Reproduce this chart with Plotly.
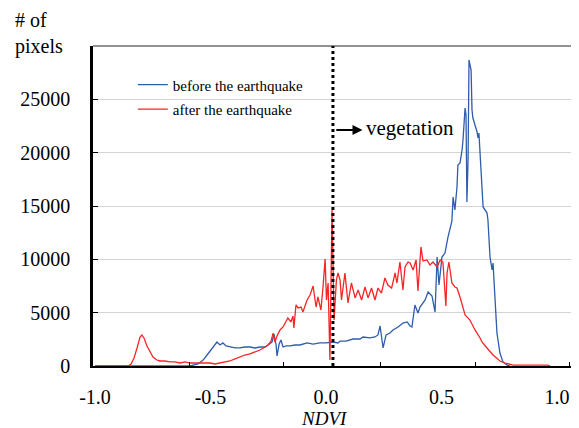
import plotly.graph_objects as go

# ---- data ----
ndvi_before = [-1.0, -0.589, -0.554, -0.532, -0.515, -0.498, -0.481, -0.472, -0.459, -0.446,
               -0.433, -0.416, -0.394, -0.372, -0.351, -0.329, -0.307, -0.286, -0.264, -0.251,
               -0.234, -0.225, -0.216, -0.212, -0.203, -0.195, -0.186, -0.173, -0.156, -0.134,
               -0.113, -0.082, -0.056, -0.026, 0.000, 0.030, 0.052, 0.061, 0.087, 0.117,
               0.147, 0.160, 0.190, 0.212, 0.225, 0.234, 0.247, 0.260, 0.277, 0.290,
               0.312, 0.333, 0.351, 0.364, 0.372, 0.385, 0.398, 0.407, 0.429, 0.442,
               0.459, 0.472, 0.481, 0.489, 0.502, 0.515, 0.528, 0.545, 0.550, 0.558,
               0.567, 0.571, 0.580, 0.589, 0.593, 0.602, 0.606, 0.610, 0.615, 0.619,
               0.628, 0.632, 0.636, 0.645, 0.654, 0.658, 0.662, 0.671, 0.680, 0.697,
               0.701, 0.710, 0.719, 0.723, 0.732, 0.740, 0.753, 0.766, 0.784, 0.797]
count_before = [0, 0, 190, 560, 1030, 1500, 2060, 2250, 1970, 2160,
                1880, 1780, 1690, 1690, 1780, 1780, 1690, 1780, 1780, 1970,
                2250, 3000, 1970, 940, 2060, 2440, 1780, 1880, 1880, 1970,
                1970, 2160, 2060, 2160, 2160, 2250, 2160, 2340, 2340, 2530,
                2530, 2720, 2630, 2720, 2910, 3750, 1690, 2910, 3090, 3380,
                3660, 4030, 4130, 3750, 3660, 5720, 4970, 5530, 6190, 6940,
                6560, 5060, 10220, 7590, 10220, 10590, 12090, 13590, 15840, 14630,
                16780, 18840, 19030, 20250, 21190, 24190, 23530, 15380, 19310, 28690,
                27750, 24000, 23250, 22590, 21940, 21380, 21840, 18380, 14910, 14340,
                13690, 10220, 9000, 9660, 5910, 3090, 1220, 380, 90, 0]

ndvi_after = [-1.0, -0.857, -0.844, -0.831, -0.818, -0.805, -0.797, -0.788, -0.775, -0.762,
              -0.749, -0.732, -0.719, -0.697, -0.675, -0.654, -0.632, -0.610, -0.589, -0.545,
              -0.502, -0.481, -0.459, -0.437, -0.416, -0.394, -0.372, -0.351, -0.329, -0.307,
              -0.286, -0.264, -0.251, -0.238, -0.229, -0.221, -0.212, -0.199, -0.186, -0.165,
              -0.152, -0.143, -0.139, -0.130, -0.121, -0.108, -0.100, -0.082, -0.069, -0.056,
              -0.043, -0.035, -0.022, -0.013, -0.004, 0.002, 0.009, 0.017, 0.026, 0.035,
              0.045, 0.052, 0.061, 0.067, 0.082, 0.095, 0.110, 0.126, 0.139, 0.154,
              0.169, 0.182, 0.197, 0.212, 0.225, 0.240, 0.255, 0.268, 0.284, 0.299,
              0.307, 0.320, 0.333, 0.342, 0.355, 0.364, 0.377, 0.390, 0.398, 0.411,
              0.420, 0.437, 0.450, 0.463, 0.481, 0.494, 0.506, 0.519, 0.524, 0.532,
              0.545, 0.558, 0.567, 0.580, 0.602, 0.623, 0.645, 0.667, 0.675, 0.697,
              0.723, 0.753, 0.775, 0.810, 0.961, 0.970]
count_after = [0, 0, 190, 750, 1690, 2720, 2910, 2630, 1880, 1310,
               840, 560, 470, 470, 380, 380, 280, 380, 280, 280,
               280, 190, 280, 380, 470, 660, 840, 1030, 1130, 1310,
               1500, 1780, 1970, 2340, 3090, 2250, 2810, 3380, 3660, 4500,
               4130, 4690, 3560, 5720, 5440, 5530, 5060, 6190, 6660, 7500,
               5530, 6470, 5250, 7410, 10030, 6190, 7780, 560, 14630, 4310,
               8060, 8720, 8060, 6190, 8720, 5910, 7780, 6380, 7130, 6190,
               7410, 6380, 7310, 6190, 7310, 6840, 8250, 7590, 7310, 8720,
               7780, 9750, 7130, 9280, 9750, 9660, 9000, 9940, 7030, 11160,
               9840, 9940, 9470, 9750, 9280, 9940, 9750, 5630, 8720, 9750,
               7780, 7410, 7310, 6470, 4780, 4310, 3380, 2630, 2250, 1690,
               1030, 470, 280, 90, 90, 0]

x_label_vals = [-1.0, -0.5, 0.0, 0.5, 1.0]
x_label_text = ["-1.0", "-0.5", "0.0", "0.5", "1.0"]
x_tick_marks = [-0.589, -0.182, 0.234, 0.645, 1.056]
y_tick_vals = [0, 5000, 10000, 15000, 20000, 25000]
y_tick_text = ["0", "5000", "10000", "15000", "20000", "25000"]
threshold = 0.03
x_range = [-1.0087, 1.0952]
y_range = [0, 30000]

FONT = "Liberation Serif, Times New Roman, serif"
BLUE = "#2f5dab"
RED = "#f72525"

fig = go.Figure()
fig.add_trace(go.Scatter(x=ndvi_before, y=count_before, mode="lines",
                         name="before the earthquake", legendgroup="b",
                         line=dict(color=BLUE, width=1.3)))
fig.add_trace(go.Scatter(x=ndvi_after, y=count_after, mode="lines",
                         name="after the earthquake", legendgroup="a",
                         line=dict(color=RED, width=1.3)))
# helper trace so the overlay axis (tick marks only) exists
fig.add_trace(go.Scatter(x=[], y=[], xaxis="x2", showlegend=False, hoverinfo="skip"))

# the page has an 8px body margin, so the figure is sized/offset to compensate
fig.update_layout(
    width=571, height=420,
    margin=dict(l=85, r=0, t=38, b=62),
    paper_bgcolor="white", plot_bgcolor="white",
    font=dict(family=FONT, color="black", size=20),
    showlegend=True,
    legend=dict(x=0.082, y=0.93, xanchor="left", yanchor="top",
                bgcolor="rgba(0,0,0,0)", font=dict(size=15, family=FONT),
                tracegroupgap=2, itemwidth=30),
    xaxis=dict(range=x_range, tickmode="array", tickvals=x_label_vals,
               ticktext=x_label_text, ticks="", showgrid=False, zeroline=False,
               showline=True, linecolor="black", linewidth=1.5, layer="below traces",
               tickfont=dict(size=20, family=FONT), ticklabelstandoff=12),
    xaxis2=dict(range=x_range, overlaying="x", side="bottom", anchor="y",
                tickmode="array", tickvals=x_tick_marks, ticks="inside", ticklen=4,
                tickcolor="black", tickwidth=1, showticklabels=False,
                showgrid=False, zeroline=False, showline=False),
    yaxis=dict(range=y_range, tickmode="array", tickvals=y_tick_vals,
               ticktext=y_tick_text, ticks="inside", ticklen=5, tickcolor="black",
               showgrid=True, gridcolor="#d4d4d4", gridwidth=1, zeroline=False,
               showline=True, linecolor="black", linewidth=2.5, layer="below traces",
               tickfont=dict(size=20, family=FONT), ticklabelstandoff=16),
)

# top border of the plot area
fig.add_shape(type="line", xref="paper", yref="paper", x0=0, x1=1, y0=1, y1=1,
              line=dict(color="#6e6e6e", width=1.5))
# vegetation threshold
fig.add_shape(type="line", xref="x", yref="paper", x0=threshold, x1=threshold, y0=0, y1=1,
              line=dict(color="black", width=3, dash="dot"))
# arrow and label
fig.add_annotation(x=0.158, y=22125, ax=0.038, ay=22125, axref="x", ayref="y",
                   xref="x", yref="y", text="", showarrow=True,
                   arrowhead=2, arrowsize=1, arrowwidth=2, arrowcolor="black")
fig.add_annotation(x=0.166, y=22300, xref="x", yref="y", text="vegetation",
                   showarrow=False, xanchor="left", yanchor="middle",
                   font=dict(size=21, family=FONT, color="black"))
# axis titles
fig.add_annotation(x=-0.165, y=1.04, xref="paper", yref="paper", text="# of<br>pixels",
                   showarrow=False, xanchor="left", yanchor="middle", align="left",
                   font=dict(size=20, family=FONT, color="black"))
fig.add_annotation(x=0.477, y=-0.163, xref="paper", yref="paper", text="<i>NDVI</i>",
                   showarrow=False, xanchor="center", yanchor="middle",
                   font=dict(size=19, family=FONT, color="black"))

fig.write_html("out.html")
